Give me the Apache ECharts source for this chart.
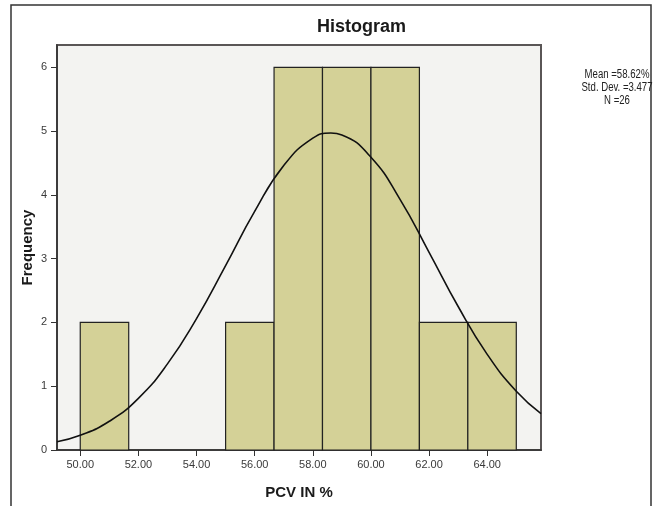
<!DOCTYPE html>
<html>
<head>
<meta charset="utf-8">
<script src="https://cdn.jsdelivr.net/npm/echarts@6/dist/echarts.min.js"></script>
<style>
  html, body { margin: 0; padding: 0; background: #ffffff; }
  #main { width: 659px; height: 506px; }
</style>
</head>
<body>
<div id="main"></div>
<script>
// histogram bins (bin width 5/3)
var binLow = [50.0, 51.667, 53.333, 55.0, 56.667, 58.333, 60.0, 61.667, 63.333]
var binHigh = [51.667, 53.333, 55.0, 56.667, 58.333, 60.0, 61.667, 63.333, 65.0]
var counts = [2, 0, 0, 2, 6, 6, 6, 2, 2]

// normal curve
var curveX = [49.2, 50, 51, 52, 53, 54, 55, 56, 57, 58, 58.62, 59, 60, 61, 62, 63, 64, 65, 65.85]
var curveY = [0.13, 0.23, 0.45, 0.81, 1.35, 2.06, 2.89, 3.74, 4.46, 4.89, 4.97, 4.94, 4.59, 3.93, 3.10, 2.25, 1.50, 0.92, 0.57]

var xTicks = [50, 52, 54, 56, 58, 60, 62, 64]
var yTicks = [0, 1, 2, 3, 4, 5, 6]
var statLines = ['Mean =58.62%', 'Std. Dev. =3.477', 'N =26']

var chart = echarts.init(document.getElementById('main'))

var barData = []
counts.forEach(function (c, i) {
  if (c > 0) barData.push([binLow[i], binHigh[i], c])
})
var lineData = curveX.map(function (x, i) { return [x, curveY[i]] })

var option = {
  backgroundColor: '#ffffff',
  animation: false,
  textStyle: { fontFamily: 'Liberation Sans, Arial, sans-serif' },
  title: {
    text: 'Histogram',
    left: 312,
    top: 13,
    textStyle: { fontSize: 18, fontWeight: 'bold', color: '#1a1a1a' }
  },
  grid: {
    left: 57, right: 118, top: 45, bottom: 56,
    show: true,
    backgroundColor: '#f3f3f1',
    borderColor: '#5a5656',
    borderWidth: 2
  },
  xAxis: {
    type: 'value',
    min: 49.2,
    max: 65.85,
    name: 'PCV IN %',
    nameLocation: 'middle',
    nameGap: 35,
    nameMoveOverlap: false,
    nameTextStyle: { fontSize: 15, fontWeight: 'bold', color: '#1a1a1a' },
    axisLine: { show: true, lineStyle: { color: '#333', width: 1.5 } },
    axisTick: { show: true, length: 6, customValues: xTicks, lineStyle: { color: '#333' } },
    axisLabel: {
      customValues: xTicks,
      margin: 9,
      fontSize: 11,
      color: '#3a3a3a',
      formatter: function (v) { return v.toFixed(2) }
    },
    splitLine: { show: false }
  },
  yAxis: {
    type: 'value',
    min: 0,
    max: 6.35,
    name: 'Frequency',
    nameLocation: 'middle',
    nameGap: 22,
    nameMoveOverlap: false,
    nameTextStyle: { fontSize: 15, fontWeight: 'bold', color: '#1a1a1a' },
    axisLine: { show: true, lineStyle: { color: '#333', width: 1.5 } },
    axisTick: { show: true, length: 6, customValues: yTicks, lineStyle: { color: '#333' } },
    axisLabel: { customValues: yTicks, margin: 10, fontSize: 11, color: '#3a3a3a' },
    splitLine: { show: false }
  },
  graphic: [
    {
      type: 'rect',
      shape: { x: 11, y: 5, width: 640, height: 520 },
      style: { fill: 'none', stroke: '#333', lineWidth: 1.5 },
      silent: true
    },
    {
      // stats box, squeezed to look like the narrow SPSS font
      type: 'text',
      x: 617,
      y: 68,
      scaleX: 0.8,
      style: {
        text: statLines.join('\n'),
        align: 'center',
        verticalAlign: 'top',
        fontSize: 12,
        lineHeight: 13,
        fontFamily: 'Liberation Sans, Arial, sans-serif',
        fill: '#222'
      },
      silent: true
    }
  ],
  series: [
    {
      type: 'custom',
      data: barData,
      encode: { x: [0, 1], y: 2 },
      renderItem: function (params, api) {
        var p0 = api.coord([api.value(0), api.value(2)])
        var p1 = api.coord([api.value(1), 0])
        return {
          type: 'rect',
          shape: { x: p0[0], y: p0[1], width: p1[0] - p0[0], height: p1[1] - p0[1] },
          style: { fill: '#d4d197', stroke: '#222', lineWidth: 1.2 }
        }
      },
      z: 2
    },
    {
      type: 'line',
      data: lineData,
      smooth: true,
      showSymbol: false,
      lineStyle: { color: '#111', width: 1.6 },
      z: 3
    }
  ]
}
chart.setOption(option)
</script>
</body>
</html>
